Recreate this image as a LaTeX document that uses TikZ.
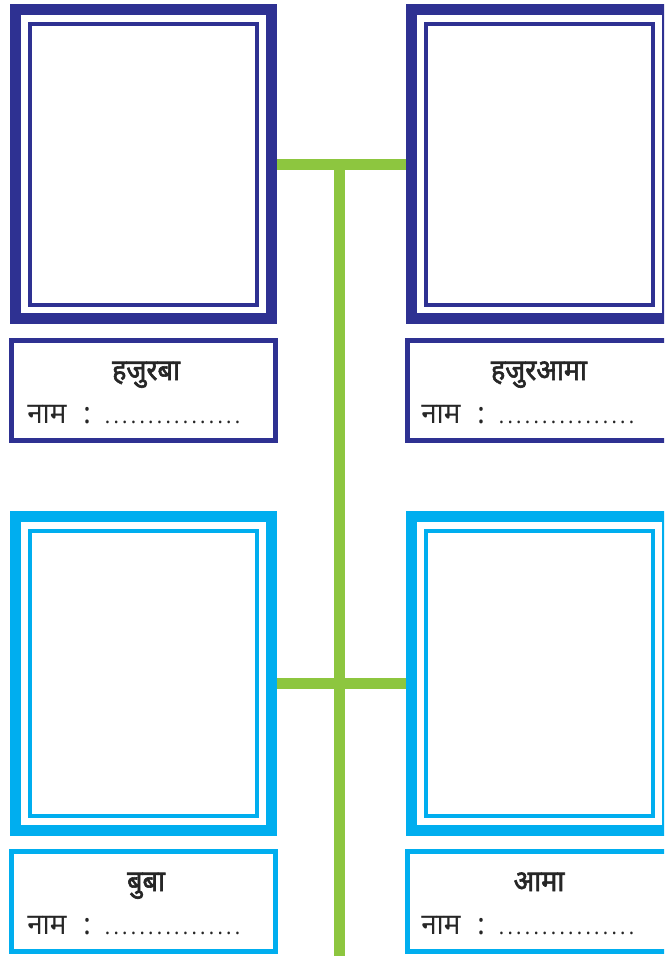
\documentclass[tikz,border=0pt]{standalone}
\usepackage{fontspec}
\newfontfamily\dev[Script=Devanagari]{Noto Sans}
\newfontfamily\devb[Script=Devanagari,FakeBold=2,FakeStretch=0.92]{Noto Sans}
\newfontfamily\devn[Script=Devanagari,FakeStretch=0.95]{Noto Sans}
\definecolor{dblue}{HTML}{2E3192}
\definecolor{lblue}{HTML}{00AEEF}
\definecolor{lgreen}{HTML}{8DC63F}
\newcommand\dotrow{\hbox to 104pt{\dev\fontsize{15}{15}\selectfont\xleaders\hbox to 6.5pt{\hss.\hss}\hfill}}
\begin{document}
\begin{tikzpicture}[x=0.75pt,y=-0.75pt,
  outerframe/.style={draw=#1,line width=8.25pt,minimum width=192pt,inner sep=0pt},
  innerframe/.style={draw=#1,line width=3pt,minimum width=170pt,inner sep=0pt},
  labelbox/.style={draw=#1,line width=3.75pt,minimum width=198pt,minimum height=75pt,inner sep=0pt},
  heading/.style={font=\devb\fontsize{22}{26}\selectfont,text=black!85,anchor=base,inner sep=0pt},
  nametext/.style={font=\devn\fontsize{22}{26}\selectfont,text=black!85,anchor=base west,inner sep=0pt},
  dots/.style={anchor=base west,inner sep=0pt,text=black!85},
  link/.style={draw=lgreen,line width=7.9pt}]
\useasboundingbox (0,0) rectangle (664,956);
\begin{scope}
\clip (0,0) rectangle (664,956);
% top row frames
\node[outerframe=dblue,minimum height=232.2pt] (tlo) at (143.5,164) {};
\node[innerframe=dblue,minimum height=210.75pt] (tli) at (143.35,164.2) {};
\node[outerframe=dblue,minimum height=232.2pt] (tro) at (539.5,164) {};
\node[innerframe=dblue,minimum height=210.75pt] (tri) at (539.35,164.2) {};
% bottom row frames
\node[outerframe=lblue,minimum height=235.5pt] (blo) at (143.5,673.5) {};
\node[innerframe=lblue,minimum height=213.3pt] (bli) at (143.35,673.5) {};
\node[outerframe=lblue,minimum height=235.5pt] (bro) at (539.5,673.5) {};
\node[innerframe=lblue,minimum height=213.3pt] (bri) at (539.35,673.5) {};
% label boxes
\node[labelbox=dblue] (tll) at (143.5,390.8) {};
\node[labelbox=dblue] (trl) at (539.5,390.8) {};
\node[labelbox=lblue] (bll) at (143.5,901.8) {};
\node[labelbox=lblue] (brl) at (539.5,901.8) {};
% texts
\node[heading] (h1) at (146,380) {हजुरबा};
\node[nametext] (n1) at (27,423) {नाम};
\node[nametext] (c1) at (83,423) {:};
\node[dots] (d1) at (103,423) {\dotrow};
\node[heading] (h2) at (539,380) {हजुरआमा};
\node[nametext] (n2) at (421,423) {नाम};
\node[nametext] (c2) at (477,423) {:};
\node[dots] (d2) at (497,423) {\dotrow};
\node[heading] (h3) at (146,891) {बुबा};
\node[nametext] (n3) at (27,934) {नाम};
\node[nametext] (c3) at (83,934) {:};
\node[dots] (d3) at (103,934) {\dotrow};
\node[heading] (h4) at (539,891) {आमा};
\node[nametext] (n4) at (421,934) {नाम};
\node[nametext] (c4) at (477,934) {:};
\node[dots] (d4) at (497,934) {\dotrow};
% connectors
\coordinate (j1) at (339.6,164.3);
\coordinate (j2) at (339.6,683.7);
\coordinate (jend) at (339.6,960);
\draw[link] (tlo.east |- j1) -- (tro.west |- j1);
\draw[link] (blo.east |- j2) -- (bro.west |- j2);
\draw[link] (j1) -- (jend);
\end{scope}
\end{tikzpicture}
\end{document}
